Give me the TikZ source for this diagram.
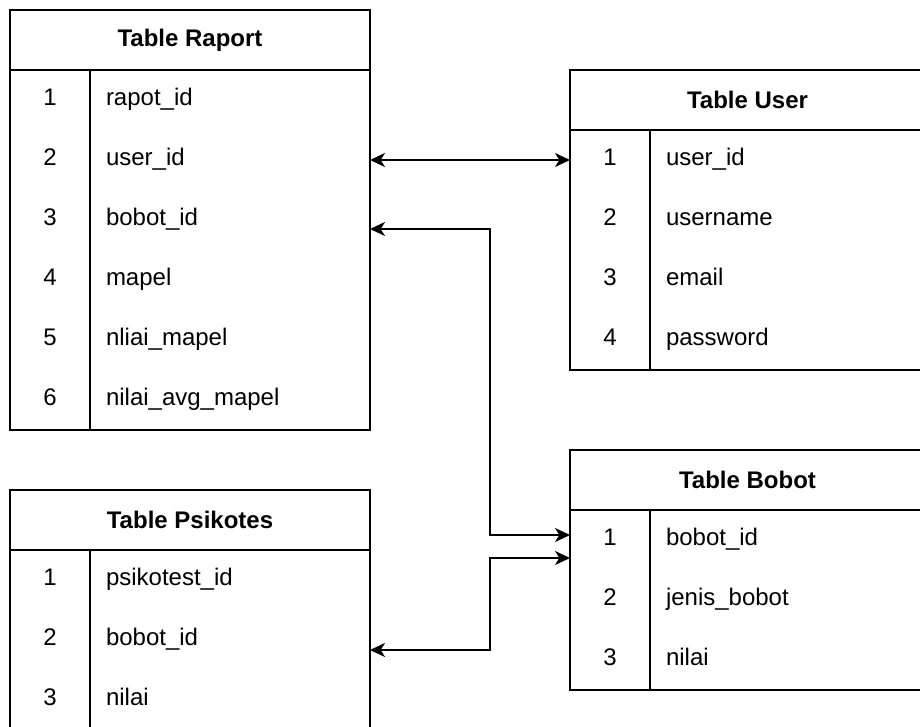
\documentclass[tikz,border=0pt]{standalone}
\usepackage{fontspec}
\setmainfont{Liberation Sans}
\usetikzlibrary{arrows.meta}
\tikzset{
  frame/.style={draw=black, line width=1pt},
  hdr/.style={inner sep=0pt, outer sep=0pt, minimum height=30pt, font=\fontsize{12}{14}\selectfont\bfseries},
  idx/.style={inner sep=0pt, outer sep=0pt, minimum width=40pt, minimum height=30pt,
              text height=0.8em, text depth=0.25em, font=\fontsize{12}{14}\selectfont},
  fld/.style={inner xsep=8pt, inner ysep=0pt, outer sep=0pt, text width=#1, align=left, minimum height=30pt,
              text height=0.8em, text depth=0.25em, font=\fontsize{12}{14}\selectfont},
  fld/.default=124pt,
  link/.style={draw=black, line width=1pt, {Stealth[length=7.5pt,width=7pt,inset=2.2pt]}-{Stealth[length=7.5pt,width=7pt,inset=2.2pt]}}
}
\begin{document}
\begin{tikzpicture}[x=0.5pt, y=-0.5pt]
\useasboundingbox (0,0) rectangle (920,727);
\clip (0,0) rectangle (920,727);
\fill[white] (0,0) rectangle (920,727);

% ---- Table Raport ----
\node[hdr, minimum width=180pt] (R) at (190,40) {Table Raport};
\foreach \i/\t in {1/rapot\_id, 2/user\_id, 3/bobot\_id, 4/mapel, 5/nliai\_mapel, 6/nilai\_avg\_mapel} {
  \node[idx] (R-i\i) at (50,{40+60*\i}) {\i};
  \node[fld, anchor=west] (R-f\i) at (90,{40+60*\i}) {\t};
}
\draw[frame] (10,10) rectangle (370,430);
\draw[frame] (10,70) -- (370,70);
\draw[frame] (90,70) -- (90,430);

% ---- Table User ----
\node[hdr, minimum width=177.5pt] (U) at (747.5,100) {Table User};
\foreach \i/\t in {1/user\_id, 2/username, 3/email, 4/password} {
  \node[idx] (U-i\i) at (610,{100+60*\i}) {\i};
  \node[fld=121.5pt, anchor=west] (U-f\i) at (650,{100+60*\i}) {\t};
}
\draw[frame] (570,70) rectangle (925,370);
\draw[frame] (570,130) -- (925,130);
\draw[frame] (650,130) -- (650,370);

% ---- Table Bobot ----
\node[hdr, minimum width=177.5pt] (B) at (747.5,480) {Table Bobot};
\foreach \i/\t in {1/bobot\_id, 2/jenis\_bobot, 3/nilai} {
  \node[idx] (B-i\i) at (610,{480+60*\i}) {\i};
  \node[fld=121.5pt, anchor=west] (B-f\i) at (650,{480+60*\i}) {\t};
}
\draw[frame] (570,450) rectangle (925,690);
\draw[frame] (570,510) -- (925,510);
\draw[frame] (650,510) -- (650,690);

% ---- Table Psikotes ----
\node[hdr, minimum width=180pt] (P) at (190,520) {Table Psikotes};
\foreach \i/\t in {1/psikotest\_id, 2/bobot\_id, 3/nilai} {
  \node[idx] (P-i\i) at (50,{520+60*\i}) {\i};
  \node[fld, anchor=west] (P-f\i) at (90,{520+60*\i}) {\t};
}
\draw[frame] (10,730) -- (10,490) -- (370,490) -- (370,730);
\draw[frame] (10,550) -- (370,550);
\draw[frame] (90,550) -- (90,730);

% ---- relations ----
\coordinate (bus) at (490,0);
\coordinate (r3) at ([yshift=-4.5pt]R-f3.east);
\coordinate (p2) at ([yshift=-5pt]P-f2.east);
\coordinate (b1a) at ([yshift=2.5pt]B-i1.west);
\coordinate (b1b) at ([yshift=-9pt]B-i1.west);

\draw[link] (R-f2.east) -- (U-i1.west);
\draw[link] (r3) -- (r3 -| bus) -- (b1a -| bus) -- (b1a);
\draw[link] (p2) -- (p2 -| bus) -- (b1b -| bus) -- (b1b);
\end{tikzpicture}
\end{document}
